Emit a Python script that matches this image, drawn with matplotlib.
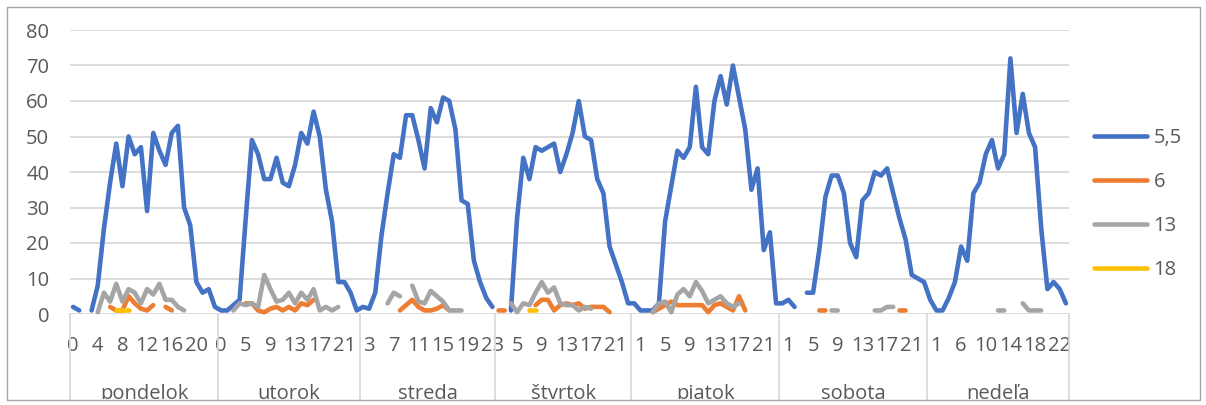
import numpy as np
import matplotlib.pyplot as plt
from matplotlib.patches import Rectangle
from matplotlib.transforms import Bbox, TransformedBbox, blended_transform_factory

plt.rcParams['font.family'] = ['Open Sans', 'DejaVu Sans']

N = None

dni = ["pondelok", "utorok", "streda", "štvrtok", "piatok", "sobota", "nedeľa"]

# hodiny, pre ktoré existuje záznam v danom dni
hodiny = [
    list(range(0, 24)),
    [0, 2, 3, 4] + list(range(5, 24)),
    list(range(2, 24)),
    list(range(2, 24)),
    list(range(0, 24)),
    list(range(0, 24)),
    [0, 1, 3, 4, 5] + list(range(6, 24)),
]

nazvy = ["5,5", "6", "13", "18"]
farby = ["#4472C4", "#ED7D31", "#A5A5A5", "#FFC000"]

linka_5_5 = [
    2, 1, N, 1, 8, 24, 37, 48, 36, 50, 45, 47, 29, 51, 46, 42, 51, 53, 30, 25, 9, 6, 7, 2,
    1, 1, 2.5, 4, 27, 49, 45, 38, 38, 44, 37, 36, 42, 51, 48, 57, 50, 35, 26, 9, 9, 6, 1,
    2, 1.5, 6, 22, 34, 45, 44, 56, 56, 49, 41, 58, 54, 61, 60, 52, 32, 31, 15, 9, 4.5, 2,
    N, N, 1, 27, 44, 38, 47, 46, 47, 48, 40, 45, 51, 60, 50, 49, 38, 34, 19, 14, 9, 3,
    3, 1, 1, 1, 3, 26, 36, 46, 44, 47, 64, 47, 45, 60, 67, 59, 70, 61, 52, 35, 41, 18, 23, 3,
    3, 4, 2, N, 6, 6, 18, 33, 39, 39, 34, 20, 16, 32, 34, 40, 39, 41, 34, 27, 21, 11, 10, 9,
    4, 1, 1, 4.5, 9, 19, 15, 34, 37, 45, 49, 41, 45, 72, 51, 62, 51, 47, 24, 7, 9, 7, 3,
]

linka_6 = [
    N, N, N, N, N, N, 2, 1, 1, 5, 3, 1.5, 1, 2.5, N, 2, 1, N, N, N, N, N, N, N,
    N, N, N, N, 3, 3, 1, 0.5, 1.5, 2, 1, 2, 1, 3, 2.5, 4, N, N, N, N, N, N, N,
    N, N, N, N, N, N, 1, 2.5, 4, 2, 1, 1, 1.5, 2.5, 1, N, N, N, N, N, N, N,
    1, 1, N, N, N, N, 2.5, 4, 4, 1, 2.5, 3, 2.5, 3, 1.5, 2, 2, 2, 0.5, N, N, N,
    N, N, N, 0.5, 1.5, 2.5, 3.5, 2.5, 2.5, 2.5, 2.5, 2.5, 0.5, 2.5, 3, 2, 1, 5, 1, N, N, N, N, N,
    N, N, N, N, N, N, 1, 1, N, N, N, N, N, N, N, N, N, N, N, 1, 1, N, N, N,
    N, N, N, N, N, N, N, N, N, N, N, N, N, N, N, N, N, N, N, N, N, N, N,
]

linka_13 = [
    N, N, N, N, 0.5, 6, 3.5, 8.5, 3.5, 7, 6, 3, 7, 5.5, 8.5, 4, 4, 2, 1, N, N, N, N, N,
    N, N, 1, 3, 2.5, 3, 2, 11, 7, 3.5, 4, 6, 3, 6, 4, 7, 1, 2, 1, 2, N, N, N,
    N, N, N, N, 3, 6, 5, N, 8, 3.5, 3, 6.5, 5, 3.5, 1, 1, 1, N, N, N, N, N,
    N, N, 3, 0.5, 3, 2.5, 6, 9, 6, 7.5, 3, 2.5, 2.5, 1, 2, 1.5, N, N, N, N, N, N,
    N, N, N, 0.5, 3, 3.5, 0.5, 5.5, 7, 5, 9, 6.5, 3, 4, 5, 3, 2, 3, N, N, N, N, N, N,
    N, N, N, N, N, N, N, N, 1, 1, N, N, N, N, N, 1, 1, 2, 2, N, N, N, N, N,
    N, N, N, N, N, N, N, N, N, N, N, 1, 1, N, N, 3, 1, 1, 1, N, N, N, N,
]

linka_18 = [
    N, N, N, N, N, N, N, 1, 1, 1, N, N, N, N, N, N, N, N, N, N, N, N, N, N,
    N, N, N, N, N, N, N, N, N, N, N, N, N, N, N, N, N, N, N, N, N, N, N,
    N, N, N, N, N, N, N, N, N, N, N, N, N, N, N, N, N, N, N, N, N, N,
    N, N, N, N, N, 1, 1, N, N, N, N, N, N, N, N, N, N, N, N, N, N, N,
    N, N, N, N, N, N, N, N, N, N, N, N, N, N, N, N, N, N, N, N, N, N, N, N,
    N, N, N, N, N, N, N, N, N, N, N, N, N, N, N, N, N, N, N, N, N, N, N, N,
    N, N, N, N, N, N, N, N, N, N, N, N, N, N, N, N, N, N, N, N, N, N, N,
]

sivy_text = "#595959"
velkost = 14.5
W, H = 1206, 405

fig = plt.figure(figsize=(W / 100, H / 100), dpi=100)
ax = fig.add_axes([70 / W, 1 - 314 / H, 999 / W, 284 / H])

vsetky_hodiny = [h for den in hodiny for h in den]
n = len(vsetky_hodiny)
x = np.arange(n) + 0.5

for nazov, hodnoty, farba in zip(nazvy, [linka_5_5, linka_6, linka_13, linka_18], farby):
    y = np.array([np.nan if v is None else v for v in hodnoty], dtype=float)
    ax.plot(x, y, color=farba, lw=3.3, label=nazov, clip_on=False,
            solid_capstyle="round", solid_joinstyle="round")

ax.set_xlim(0, n)
ax.set_ylim(0, 80)
ax.set_yticks(range(0, 81, 10))
ax.yaxis.grid(True, color="#d9d9d9", lw=1.3)
ax.set_axisbelow(True)
for s in ax.spines.values():
    s.set_visible(False)

ax.set_xticks(x[::4])
ax.set_xticklabels([str(h) for h in vsetky_hodiny[::4]])
ax.tick_params(axis="x", length=0, pad=15.5, labelsize=velkost, labelcolor=sivy_text)
ax.tick_params(axis="y", length=0, pad=15, labelsize=velkost, labelcolor=sivy_text)

# oddelovače dní a názvy dní pod osou
tr = blended_transform_factory(ax.transData, fig.transFigure)
hranice = np.cumsum([0] + [len(d) for d in hodiny])
for b in hranice:
    ax.plot([b, b], [1 - 314 / H, 1 - 400 / H], transform=tr, color="#d9d9d9",
            lw=1.3, clip_on=False)

orez = TransformedBbox(Bbox.from_extents(0, 1 - 399 / H, 1, 1), fig.transFigure)
for den, a, b in zip(dni, hranice[:-1], hranice[1:]):
    t = fig.text((a + b) / 2, 1 - 399 / H, den, transform=tr, ha="center",
                 va="baseline", fontsize=velkost, color=sivy_text)
    t.set_clip_on(True)
    t.set_clip_box(orez)

fig.legend(loc="center left", bbox_to_anchor=(1094 / W, 1 - 204 / H), frameon=False,
           fontsize=velkost, handlelength=2.65, handletextpad=0.3, labelspacing=1.2,
           borderpad=0, borderaxespad=0, labelcolor=sivy_text)

fig.patches.append(Rectangle((7 / W, 1 - 400 / H), 1193 / W, 393 / H,
                             transform=fig.transFigure, fill=False,
                             ec="#a6a6a6", lw=1))

fig.savefig("out.png", dpi=100)
